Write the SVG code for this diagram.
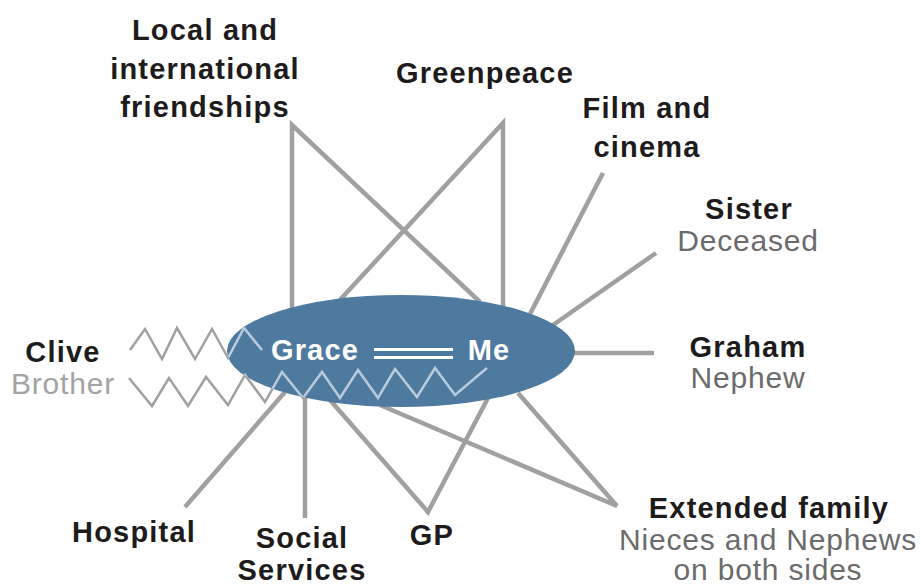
<svg xmlns="http://www.w3.org/2000/svg" width="921" height="587" viewBox="0 0 921 587">
<style>
.ln{stroke:#a0a0a0;stroke-width:4.5;fill:none;stroke-linecap:butt}
.zz{stroke:#a0a0a0;stroke-width:2.5;fill:none;stroke-linejoin:miter}
.zzl{stroke:#b9cbdc;stroke-width:2.5;fill:none}
.b{font-family:"Liberation Sans",Arial,sans-serif;font-weight:bold;font-size:29px;letter-spacing:1.2px;fill:#1e1b1c;text-anchor:middle}
.s{font-family:"Liberation Sans",Arial,sans-serif;font-size:30px;letter-spacing:0.8px;fill:#6b6b6b;text-anchor:middle}
.sl{fill:#a3a3a3}
.w{fill:#ffffff}
</style>
<defs>
<clipPath id="ec"><ellipse cx="401" cy="351" rx="174" ry="56"/></clipPath>
<path id="z1" d="M130,350 L145,329 L162,359 L177,328 L195,359 L212,329 L228,358 L244,328 L262,350"/>
<path id="z2" d="M129,378 L152,406 L169,378 L188,406 L206,377 L228,405 L245,375 L265,402 L282,372 L303,398 L322,372 L340,398 L358,370 L378,398 L395,369 L417,397 L435,368 L455,395 L487,368"/>
</defs>
<g id="connectors">
<polyline class="ln" points="292,310 292,125 480,302"/>
<polyline class="ln" points="338,302 503,123 503,310"/>
<line class="ln" x1="603" y1="173" x2="530" y2="314"/>
<line class="ln" x1="656" y1="253" x2="553" y2="325"/>
<line class="ln" x1="570" y1="353" x2="654" y2="353"/>
<polyline class="ln" points="518,393 617,506 380,405"/>
<polyline class="ln" points="330,400 428,512 488,398"/>
<line class="ln" x1="305" y1="398" x2="305" y2="518"/>
<line class="ln" x1="185" y1="507" x2="285" y2="392"/>
<use href="#z1" class="zz"/>
<use href="#z2" class="zz"/>
</g>
<g id="grace-me">
<ellipse cx="401" cy="351" rx="174" ry="56" fill="#4f7aa0"/>
<g clip-path="url(#ec)">
<use href="#z1" class="zzl"/>
<use href="#z2" class="zzl"/>
</g>
<text class="b w" x="315" y="360">Grace</text>
<text class="b w" x="489" y="360">Me</text>
<line x1="374" y1="349.5" x2="453" y2="349.5" stroke="#fff" stroke-width="3"/>
<line x1="374" y1="357.5" x2="453" y2="357.5" stroke="#fff" stroke-width="3"/>
</g>
<g id="friendships">
<text class="b" x="205" y="40">Local and</text>
<text class="b" x="205" y="79">international</text>
<text class="b" x="205" y="117">friendships</text>
</g>
<g id="greenpeace"><text class="b" x="485" y="83">Greenpeace</text></g>
<g id="film"><text class="b" x="647" y="118">Film and</text><text class="b" x="647" y="157">cinema</text></g>
<g id="sister"><text class="b" x="749" y="219">Sister</text><text class="s" x="748" y="251">Deceased</text></g>
<g id="graham"><text class="b" x="748" y="357">Graham</text><text class="s" x="748" y="388">Nephew</text></g>
<g id="clive"><text class="b" x="63" y="362">Clive</text><text class="s sl" x="63" y="394">Brother</text></g>
<g id="hospital"><text class="b" x="134" y="542">Hospital</text></g>
<g id="social"><text class="b" x="302" y="548">Social</text><text class="b" x="302" y="580">Services</text></g>
<g id="gp"><text class="b" x="432" y="545">GP</text></g>
<g id="extended"><text class="b" x="769" y="518">Extended family</text><text class="s" x="768" y="550">Nieces and Nephews</text><text class="s" x="768" y="580">on both sides</text></g>
</svg>
